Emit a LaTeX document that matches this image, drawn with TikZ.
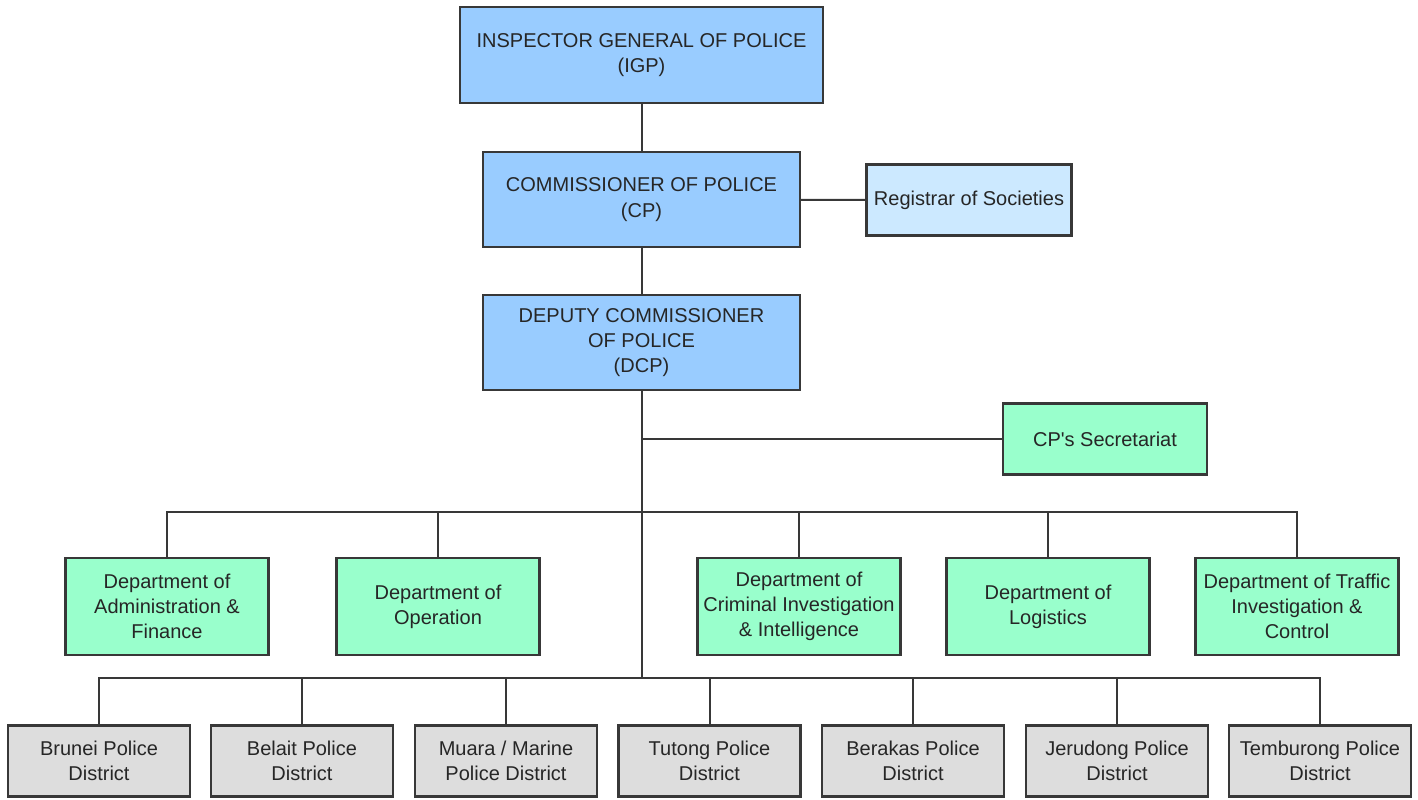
\documentclass[tikz,border=0pt]{standalone}
\usepackage{fontspec}
\setmainfont{Liberation Sans}
\definecolor{chiefblue}{HTML}{99CCFF}
\definecolor{sideblue}{HTML}{CCE9FF}
\definecolor{deptgreen}{HTML}{99FFCC}
\definecolor{distgrey}{HTML}{DDDDDD}
\definecolor{edgegrey}{HTML}{383838}
\begin{document}
\begin{tikzpicture}[x=0.5pt,y=-0.5pt,
    box/.style={draw=edgegrey,line width=1.1pt,align=center,inner sep=2pt,text=black!85,
      font=\fontsize{10pt}{12.6pt}\selectfont},
    chief/.style={box,fill=chiefblue,minimum width=158.5pt,minimum height=47.5pt},
    side/.style={box,fill=sideblue,minimum width=102.5pt,minimum height=35.5pt},
    dept/.style={box,fill=deptgreen,minimum width=101.5pt,minimum height=48.5pt},
    dist/.style={box,fill=distgrey,minimum width=91pt,minimum height=35.5pt},
    link/.style={draw=edgegrey,line width=1pt}]
      \useasboundingbox (0,0) rectangle (1418,799);
      % top of the chain
      \node[chief,minimum width=181.5pt,minimum height=48pt] (igp) at (641.5,55) {INSPECTOR GENERAL OF POLICE\\(IGP)};
      \node[chief] (cp) at (641.5,199.5) {COMMISSIONER OF POLICE\\(CP)};
      \node[side] (ros) at (969,200) {Registrar of Societies};
      \node[chief] (dcp) at (641.5,342.5) {DEPUTY COMMISSIONER\\OF POLICE\\(DCP)};
      \node[side,fill=deptgreen,minimum width=102pt] (sec) at (1105,439) {CP\textquotesingle s Secretariat};
      % departments
      \node[dept] (adm) at (167,606.5) {Department of\\Administration \&\\Finance};
      \node[dept] (ops) at (438,606.5) {Department of\\Operation};
      \node[dept] (cid) at (799,606.5) {Department of\\Criminal Investigation\\\& Intelligence};
      \node[dept] (log) at (1048,606.5) {Department of\\Logistics};
      \node[dept] (trf) at (1297,606.5) {Department of Traffic\\Investigation \&\\Control};
      % police districts
      \node[dist] (bru) at (99,761) {Brunei Police\\District};
      \node[dist] (bel) at (302,761) {Belait Police\\District};
      \node[dist] (mua) at (506,761) {Muara / Marine\\Police District};
      \node[dist] (tut) at (709.5,761) {Tutong Police\\District};
      \node[dist] (ber) at (913,761) {Berakas Police\\District};
      \node[dist] (jer) at (1117,761) {Jerudong Police\\District};
      \node[dist] (tem) at (1320,761) {Temburong Police\\District};
      % junctions on the trunk
      \coordinate (jsec) at (641.5,439);
      \coordinate (jdept) at (641.5,512);
      \coordinate (jdist) at (641.5,678);
      % connectors
      \draw[link] (igp) -- (cp);
      \draw[link] (cp) -- (ros);
      \draw[link] (cp) -- (dcp);
      \draw[link] (dcp) -- (jdist);
      \draw[link] (jsec) -- (sec);
      \draw[link] (jdept) -| (adm);
      \draw[link] (jdept) -| (ops);
      \draw[link] (jdept) -| (cid);
      \draw[link] (jdept) -| (log);
      \draw[link] (jdept) -| (trf);
      \draw[link] (jdist) -| (bru);
      \draw[link] (jdist) -| (bel);
      \draw[link] (jdist) -| (mua);
      \draw[link] (jdist) -| (tut);
      \draw[link] (jdist) -| (ber);
      \draw[link] (jdist) -| (jer);
      \draw[link] (jdist) -| (tem);
\end{tikzpicture}
\end{document}
